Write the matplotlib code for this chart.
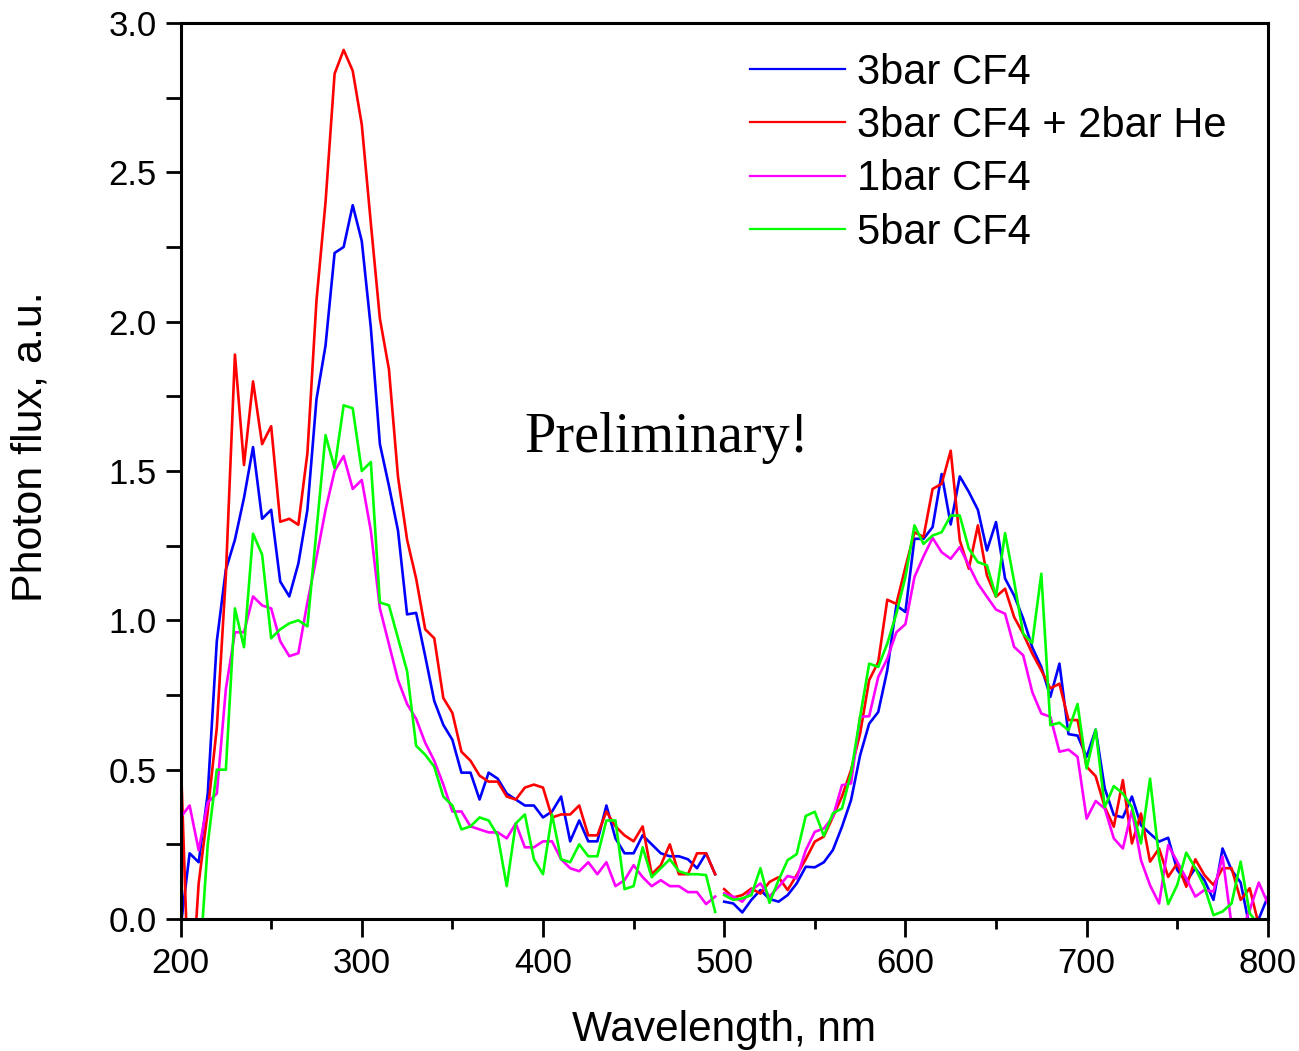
import matplotlib
matplotlib.use("Agg")
import matplotlib.pyplot as plt
import numpy as np
from matplotlib.ticker import MultipleLocator

# wavelength grids (two spectrometer ranges, gap between 495 and 500 nm)
wl_uv = np.arange(200, 500, 5)
wl_vis = np.arange(500, 805, 5)

# 3bar CF4
blue_uv = [-0.03, 0.22, 0.19, 0.42, 0.93, 1.17, 1.27, 1.41, 1.58, 1.34,
           1.37, 1.13, 1.08, 1.19, 1.37, 1.74, 1.92, 2.23, 2.25, 2.39,
           2.27, 1.98, 1.59, 1.45, 1.30, 1.02, 1.025, 0.88, 0.73, 0.65,
           0.60, 0.49, 0.49, 0.40, 0.49, 0.47, 0.42, 0.40, 0.38, 0.38,
           0.34, 0.36, 0.41, 0.26, 0.33, 0.26, 0.26, 0.38, 0.27, 0.22,
           0.22, 0.28, 0.25, 0.22, 0.21, 0.21, 0.20, 0.17, 0.22, 0.15]
blue_vis = [0.058, 0.052, 0.022, 0.064, 0.097, 0.067, 0.058, 0.080, 0.119, 0.175,
            0.173, 0.19, 0.231, 0.309, 0.398, 0.548, 0.654, 0.693, 0.833, 1.05,
            1.028, 1.273, 1.273, 1.312, 1.49, 1.321, 1.482, 1.43, 1.37, 1.234,
            1.329, 1.14, 1.083, 1.006, 0.91, 0.844, 0.744, 0.855, 0.619, 0.614,
            0.543, 0.634, 0.437, 0.348, 0.34, 0.41, 0.314, 0.286, 0.259, 0.272,
            0.164, 0.125, 0.17, 0.13, 0.064, 0.236, 0.164, 0.122, -0.03, 0.0,
            0.075]

# 3bar CF4 + 2bar He
red_uv = [0.56, -0.35, 0.12, 0.36, 0.64, 1.15, 1.89, 1.52, 1.80, 1.59,
          1.65, 1.33, 1.34, 1.32, 1.56, 2.07, 2.40, 2.83, 2.91, 2.84,
          2.66, 2.33, 2.01, 1.84, 1.48, 1.27, 1.14, 0.97, 0.94, 0.74,
          0.69, 0.56, 0.53, 0.48, 0.46, 0.46, 0.41, 0.40, 0.44, 0.45,
          0.44, 0.34, 0.35, 0.35, 0.38, 0.28, 0.28, 0.36, 0.31, 0.28,
          0.26, 0.31, 0.15, 0.18, 0.25, 0.15, 0.15, 0.22, 0.22, 0.15]
red_vis = [0.10, 0.072, 0.08, 0.102, 0.085, 0.124, 0.14, 0.097, 0.147, 0.20,
           0.259, 0.276, 0.342, 0.41, 0.499, 0.621, 0.80, 0.86, 1.069, 1.055,
           1.178, 1.295, 1.279, 1.44, 1.457, 1.568, 1.268, 1.173, 1.318, 1.15,
           1.079, 1.106, 1.011, 0.955, 0.889, 0.833, 0.772, 0.788, 0.666, 0.666,
           0.51, 0.478, 0.375, 0.309, 0.465, 0.253, 0.353, 0.192, 0.236, 0.141,
           0.186, 0.108, 0.20, 0.147, 0.114, 0.17, 0.17, 0.064, 0.103, -0.02,
           -0.05]

# 1bar CF4
magenta_uv = [0.34, 0.38, 0.23, 0.39, 0.42, 0.77, 0.96, 0.96, 1.08, 1.05,
              1.04, 0.93, 0.88, 0.89, 1.06, 1.21, 1.37, 1.50, 1.55, 1.44,
              1.47, 1.30, 1.04, 0.92, 0.80, 0.72, 0.67, 0.59, 0.53, 0.45,
              0.36, 0.36, 0.31, 0.30, 0.29, 0.29, 0.27, 0.32, 0.24, 0.24,
              0.26, 0.26, 0.20, 0.17, 0.16, 0.19, 0.15, 0.19, 0.11, 0.13,
              0.18, 0.14, 0.11, 0.13, 0.11, 0.11, 0.09, 0.09, 0.05, 0.075]
magenta_vis = [0.086, 0.075, 0.058, 0.097, 0.119, 0.075, 0.108, 0.144, 0.136, 0.23,
               0.292, 0.303, 0.342, 0.448, 0.454, 0.677, 0.679, 0.81, 0.872, 0.96,
               0.987, 1.145, 1.214, 1.276, 1.228, 1.206, 1.245, 1.184, 1.123, 1.079,
               1.036, 1.022, 0.911, 0.883, 0.76, 0.688, 0.677, 0.56, 0.567, 0.543,
               0.336, 0.395, 0.37, 0.27, 0.236, 0.364, 0.197, 0.113, 0.052, 0.247,
               0.192, 0.136, 0.075, 0.097, 0.092, 0.209, -0.02, -0.05, 0.03, 0.122,
               0.052]

# 5bar CF4
green_uv = [0.05, -0.35, -0.2, 0.25, 0.50, 0.50, 1.04, 0.91, 1.29, 1.22,
            0.94, 0.97, 0.99, 1.00, 0.98, 1.30, 1.62, 1.51, 1.72, 1.71,
            1.50, 1.53, 1.06, 1.05, 0.94, 0.83, 0.58, 0.55, 0.51, 0.41,
            0.38, 0.30, 0.31, 0.34, 0.33, 0.28, 0.11, 0.32, 0.35, 0.20,
            0.15, 0.35, 0.20, 0.19, 0.25, 0.21, 0.21, 0.33, 0.33, 0.10,
            0.11, 0.24, 0.14, 0.17, 0.20, 0.16, 0.15, 0.15, 0.147, 0.024]
green_vis = [0.08, 0.064, 0.069, 0.08, 0.17, 0.054, 0.13, 0.197, 0.217, 0.345,
             0.359, 0.278, 0.354, 0.37, 0.488, 0.677, 0.855, 0.844, 0.922, 1.022,
             1.145, 1.318, 1.256, 1.284, 1.295, 1.351, 1.351, 1.24, 1.195, 1.184,
             1.08, 1.292, 1.13, 0.955, 0.924, 1.156, 0.649, 0.657, 0.632, 0.72,
             0.504, 0.634, 0.375, 0.445, 0.42, 0.375, 0.253, 0.47, 0.203, 0.05,
             0.114, 0.222, 0.17, 0.108, 0.013, 0.025, 0.052, 0.192, 0.019, -0.02,
             -0.05]

labels = ["3bar CF4", "3bar CF4 + 2bar He", "1bar CF4", "5bar CF4"]
colors = ["#0000ff", "#ff0000", "#ff00ff", "#00ff00"]

# join the two ranges with a break
wl = np.concatenate([wl_uv, [np.nan], wl_vis])
series = [
    np.concatenate([blue_uv, [np.nan], blue_vis]),
    np.concatenate([red_uv, [np.nan], red_vis]),
    np.concatenate([magenta_uv, [np.nan], magenta_vis]),
    np.concatenate([green_uv, [np.nan], green_vis]),
]

plt.rcParams['font.family'] = ['Liberation Sans', 'DejaVu Sans']

fig = plt.figure(figsize=(12.99, 10.51), dpi=100)
ax = fig.add_axes([0.139, 0.1256, 0.837, 0.8525])

for y, c, lab in zip(series, colors, labels):
    ax.plot(wl, y, color=c, lw=1.9, label=lab)

ax.set_xlim(200, 800)
ax.set_ylim(0, 3.0)
ax.xaxis.set_major_locator(MultipleLocator(100))
ax.xaxis.set_minor_locator(MultipleLocator(50))
ax.yaxis.set_major_locator(MultipleLocator(0.5))
ax.yaxis.set_minor_locator(MultipleLocator(0.25))
ax.yaxis.set_major_formatter(matplotlib.ticker.FormatStrFormatter('%.1f'))

ax.tick_params(axis='x', which='major', direction='out', length=13, width=2, labelsize=25, pad=7)
ax.tick_params(axis='x', which='minor', direction='out', length=7, width=2)
ax.tick_params(axis='y', which='both', direction='out', length=11, width=2, labelsize=25, pad=6)
for s in ax.spines.values():
    s.set_linewidth(2.2)

ax.set_xlabel("Wavelength, nm", fontsize=30.5, labelpad=22)
ax.set_ylabel("Photon flux, a.u.", fontsize=31)
ax.yaxis.set_label_coords(-0.12, 0.527)

ax.text(468, 1.61, "Preliminary!", fontsize=40.5, family=['Liberation Serif', 'DejaVu Serif'],
        ha='center', va='center')

leg = ax.legend(loc='upper left', bbox_to_anchor=(0.524, 0.967), frameon=False,
                fontsize=30, handlelength=2.28, handletextpad=0.29,
                labelspacing=0.32, borderpad=0, borderaxespad=0)
for line in leg.get_lines():
    line.set_linewidth(1.6)

fig.savefig("out.png", dpi=100)
